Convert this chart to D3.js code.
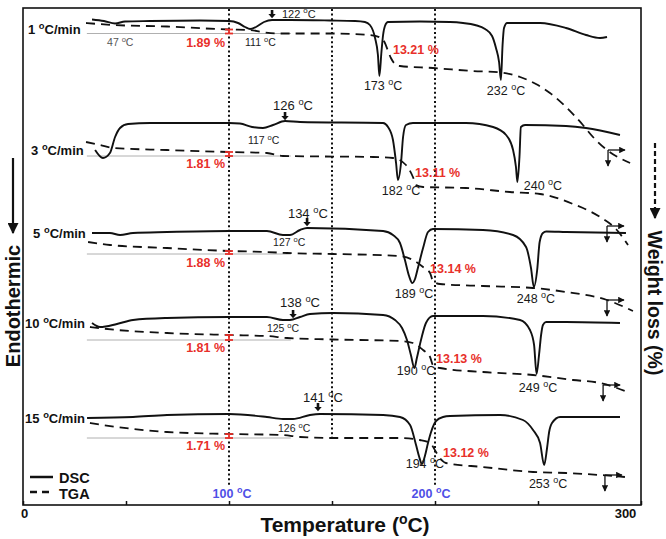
<!DOCTYPE html>
<html><head><meta charset="utf-8">
<script src="https://cdn.jsdelivr.net/npm/d3@7"></script>
<style>body{margin:0;background:#fff}svg{display:block}text{font-family:"Liberation Sans",Arial,Helvetica,sans-serif}</style>
</head><body><svg id="c" width="666" height="539"></svg>
<script>
// ---------- DATA (temperature in °C, signal in arbitrary units) ----------
const rates = ["1", "3", "5", "10", "15"];
const peak1 = ["173", "182", "189", "190", "194"];
const peak2 = ["232", "240", "248", "249", "253"];
const onsetUp = ["122", "126", "134", "138", "141"];
const onsetDip = ["111", "117", "127", "125", "126"];
const loss1 = ["1.89 %", "1.81 %", "1.88 %", "1.81 %", "1.71 %"];
const loss2 = ["13.21 %", "13.11 %", "13.14 %", "13.13 %", "13.12 %"];
const refTemps = ["100", "200"];
const refLines = [100, 150, 200];
const xTicks = [0, 50, 100, 150, 200, 250, 300];

const dsc1 = [[33.5,97.1],[39.3,96.8],[44.7,96.3],[49.5,96.7],[61.7,96.8],[85.9,96.9],[100,96.8],[104.4,96.4],[107.8,95.6],[110.2,95.2],[113.1,95.6],[117,96.6],[120.9,97],[129.6,97],[149,96.9],[161.2,96.8],[166,96.6],[168.4,96],[170.9,93.4],[172.3,90],[173,85.8],[174,90.6],[174.8,94],[175.7,95.8],[177.2,96.6],[192.7,96.7],[207.3,96.6],[213.6,96.4],[219.4,96],[224.3,95.2],[227.7,93.8],[229.6,91.4],[231.1,88.6],[232,85],[232.8,92],[233.5,95.4],[235,96.4],[251,96.4],[263.6,95.4],[273.3,94],[280.1,93.4],[283.5,93.6]];
const tga1 = [[30.6,96.4],[43.7,96],[69.9,95.7],[100,95.1],[110.2,95],[116,94.6],[123.3,94.3],[150.5,94.3],[168.4,94],[173.3,93.5],[175.7,92.4],[177.2,90.8],[178.6,89.4],[180.6,88.2],[183,87.8],[199,87.4],[218.4,86.8],[232,86.5],[241.3,85.6],[249,84.2],[255.8,82.4],[263.6,79.6],[271.8,76],[276.7,73.6],[283.5,71],[294.7,68.4]];
const dsc3 = [[35,71],[38.8,69.4],[42.2,70.4],[44.7,73.6],[47.1,75.4],[51,76.2],[61.7,76.4],[100,76.4],[105.3,76.3],[111.2,75.6],[116.5,75.4],[121.4,76],[127.2,76.8],[134.5,76.6],[174.8,76.4],[177.2,75.6],[179.6,73],[181.1,68.4],[182,65],[183.5,68.4],[184.5,73.6],[185.9,76],[189.3,76.4],[215,76.4],[228.2,75.6],[234.5,74],[237.9,71],[239.3,67.6],[240,64.6],[241,69.6],[241.7,75.6],[243.7,76],[263.6,75.8],[273.3,75.4],[289.8,74]];
const tga3 = [[30.6,72.6],[37.4,72],[43.7,71.4],[69.9,71],[100,70.6],[118.4,70.4],[126.2,69.8],[169.9,69.6],[179.6,69.4],[185.9,68],[189.3,65.6],[190.8,64],[194.2,63.6],[215,63.4],[236.4,62.6],[251,62.2],[267,60.2],[280.1,57.6],[288.3,55],[293.7,52]];
const dsc5 = [[33.5,54.4],[42.2,54.4],[47.1,54],[53.4,54.4],[69.9,54.6],[100,54.8],[118.4,54.8],[126.2,54],[129.6,54],[134.5,55],[137.9,55.4],[174.8,54.8],[179.6,54],[183,52.4],[185.4,49],[187.4,45.8],[189,44.4],[190.3,45.2],[191.7,47.4],[194.2,51.4],[196.6,54.6],[199,55.2],[223.3,55],[237.9,54],[244.2,51.6],[246.6,47.4],[248,43.6],[249.6,47],[250.8,52.6],[252.4,54.4],[254,54.7],[263.6,54.6],[292.7,54.4]];
const tga5 = [[31.6,52.6],[42.2,52],[69.9,51.4],[100,50.8],[118.4,50.6],[128.2,50.4],[150.5,50.2],[183,49.8],[189.3,49],[194.2,47.6],[197.6,46.4],[199,44.8],[202.4,44.2],[223.3,43.8],[247.6,43.4],[263.6,42.6],[283.5,41],[296.1,38.8]];
const dsc10 = [[33.5,36.4],[37.4,35.6],[45.6,36.2],[53.4,37],[69.9,37.4],[100,37.6],[118.4,37.6],[126.2,37],[129.6,37],[134.5,37.6],[139.3,38.2],[150.5,38.4],[174.8,38],[180.6,37],[184,35.4],[186.4,33],[188.3,30],[190,27.4],[191.2,29.4],[193.2,33],[195.6,36.4],[199,37.8],[223.3,37.8],[241.3,37],[246.1,35],[248.1,32],[249.3,26.2],[250.5,30],[251.5,34],[252.4,36],[253.9,36.6],[263.6,36.6],[289.8,36.4]];
const tga10 = [[32.5,35.6],[45.6,35],[69.9,34.4],[100,34],[118.4,33.8],[128.2,33.4],[150.5,33.1],[183,32.8],[189.3,32.4],[194.2,31],[197.6,29.6],[199,28],[202.4,27.4],[223.3,26.6],[247.6,26],[267,25],[280.1,24.4],[294.7,22.4]];
const dsc15 = [[31.1,17.4],[53.4,17.6],[69.9,18],[100,18.2],[118.4,17.6],[126.2,17.2],[131.1,17.2],[139.3,18],[144.2,18.2],[174.8,18],[183,17.6],[187.9,16],[190.8,12],[192.2,9.8],[193.7,8.2],[195.1,9.8],[196.6,12.4],[198.1,14.6],[200.5,16.8],[203.9,17.6],[207.3,17.8],[231.6,18],[242.7,17],[247.6,15],[251,12.4],[253,8],[254.4,11.4],[255.4,14.6],[256.8,16.4],[260.7,17.6],[289.8,17.6]];
const tga15 = [[32.5,16.4],[45.6,15.6],[69.9,14.6],[100,14.2],[126.2,14],[134.5,13.6],[150.5,13.4],[183,13.4],[192.7,13],[197.6,12.4],[200.5,10.6],[202.4,9.4],[205.3,8.4],[223.3,7.6],[247.6,6.6],[263.6,6.4],[280.1,6],[292.2,5.6]];
const dscAll = [dsc1, dsc3, dsc5, dsc10, dsc15];
const tgaAll = [tga1, tga3, tga5, tga10, tga15];
// residual-mass reference level at 100 °C (a.u.) and TGA value there
const tgaAt100 = [95.1, 70.6, 50.8, 34.0, 14.2];
const refLevel = [94.3, 69.8, 50.2, 33.0, 13.4];

// ---------- LAYOUT (annotation placement, in data units) ----------
const L = {
  rate:  [[2.4,94.2],[3.9,70],[4.9,53.4],[1,35.4],[1,16.4]],
  p1:    [[174.8,83],[183.5,62],[189.8,41.4],[190.8,26],[195.1,7.4]],
  p2:    [[234.5,82],[252.4,63],[249,40.4],[250,22.6],[254.9,3.4]],
  up:    [[125.7,97.4],[121.4,79],[128.6,57.4],[124.8,39.6],[135.9,20.6]],
  upArr: [[120.9,97.4],[127.2,77],[137.9,55.8],[131.1,37.4],[143.2,18.8]],
  dip:   [[107.8,91.8],[109.2,72.2],[121.4,51.8],[118.4,34.6],[123.8,14.6]],
  l1:    [[98.1,91.6],[98.1,67.4],[98.1,47.6],[98.1,30.6],[98.1,11]],
  l2:    [[179.6,90.2],[190.3,65.6],[197.6,46.4],[200.5,28.4],[203.9,9.6]],
  corner:[[284,71],[283.5,55.8],[283.5,41],[281.6,24],[282.5,6]]
};

const svg = d3.select("#c");
const x = d3.scaleLinear().domain([0, 300]).range([23, 641]);
const y = d3.scaleLinear().domain([0, 100]).range([505, 5]);
const RED = "#e8302a", BLUE = "#4f4fe6", INK = "#111";

const defs = svg.append("defs");
defs.append("marker").attr("id","ah").attr("viewBox","0 0 10 10").attr("refX",9).attr("refY",5)
  .attr("markerWidth",5).attr("markerHeight",5).attr("orient","auto")
  .append("path").attr("d","M0,0L10,5L0,10z").attr("fill",INK);

function deg(sel, px, py, num, o) {
  const s = o.size, t = sel.append("text").attr("x",px).attr("y",py).attr("font-size",s)
    .attr("font-weight",o.weight||"normal").attr("fill",o.fill||INK).attr("text-anchor",o.anchor||"start");
  t.append("tspan").text(num + " ");
  t.append("tspan").attr("dy",-s*0.42).attr("font-size",s*0.72).text("o");
  t.append("tspan").attr("dy",s*0.42).text(o.suffix||"C");
  return t;
}

// frame
svg.append("rect").attr("x",x(0)).attr("y",8).attr("width",x(300)-x(0)).attr("height",505-8)
  .attr("fill","none").attr("stroke",INK).attr("stroke-width",1.6);

// axis ticks
const ax = svg.append("g").attr("transform",`translate(0,505)`)
  .call(d3.axisBottom(x).tickValues(xTicks).tickSize(-4).tickFormat(d => (d===0||d===300)? String(d):""));
ax.select(".domain").remove();
ax.selectAll("line").attr("stroke",INK).attr("stroke-width",1.5);
ax.selectAll("text").attr("y",4).attr("font-size",13).attr("font-weight","bold").attr("fill",INK)
  .attr("font-family",'"Liberation Sans",Arial,sans-serif')
  .attr("dx", d => d===300 ? -16 : 1);

// dotted reference lines
refLines.forEach(t => {
  svg.append("line").attr("x1",x(t)).attr("x2",x(t)).attr("y1",9).attr("y2", t===150 ? y(13) : y(3.6))
    .attr("stroke",INK).attr("stroke-width",2).attr("stroke-dasharray","2,2.6");
});
refTemps.forEach((t,i) => deg(svg, x(+t) + (i===0?3:-4), 498, t, {size:12.5, weight:"bold", fill:BLUE, anchor:"middle"}));

// gray reference levels
refLevel.forEach(v => svg.append("line").attr("x1",x(31)).attr("x2",x(130)).attr("y1",y(v)).attr("y2",y(v))
  .attr("stroke","#b0b0b0").attr("stroke-width",1));

const line = d3.line().x(d=>x(d[0])).y(d=>y(d[1])).curve(d3.curveMonotoneX);
tgaAll.forEach(d => svg.append("path").attr("d",line(d)).attr("fill","none").attr("stroke",INK)
  .attr("stroke-width",1.8).attr("stroke-dasharray","9,6"));
dscAll.forEach(d => svg.append("path").attr("d",line(d)).attr("fill","none").attr("stroke",INK)
  .attr("stroke-width",1.9));

// red I-bars at 100 °C
tgaAt100.forEach((v,i) => {
  const g = svg.append("g").attr("stroke",RED).attr("stroke-width",1.8);
  const X = x(100), y1 = y(v), y2 = y(refLevel[i]);
  g.append("line").attr("x1",X).attr("x2",X).attr("y1",y1).attr("y2",y2);
  g.append("line").attr("x1",X-4).attr("x2",X+4).attr("y1",y1).attr("y2",y1);
  g.append("line").attr("x1",X-4).attr("x2",X+4).attr("y1",y2).attr("y2",y2);
});

// labels
rates.forEach((r,i) => deg(svg, x(L.rate[i][0]), y(L.rate[i][1]), r, {size:13, weight:"bold", suffix:"C/min"}));
peak1.forEach((p,i) => deg(svg, x(L.p1[i][0]), y(L.p1[i][1]), p, {size:12.5, anchor:"middle", fill:"#1a1a1a"}));
peak2.forEach((p,i) => deg(svg, x(L.p2[i][0]), y(L.p2[i][1]), p, {size:12.5, anchor:"middle", fill:"#1a1a1a"}));
onsetUp.forEach((p,i) => deg(svg, x(L.up[i][0]), y(L.up[i][1]), p, {size: i===0 ? 11 : 13, fill:"#1a1a1a"}));
onsetDip.forEach((p,i) => deg(svg, x(L.dip[i][0]), y(L.dip[i][1]), p, {size:10.5, fill:"#1a1a1a"}));
deg(svg, x(40.8), y(91.8), "47", {size:10.5, fill:"#555"});
loss1.forEach((p,i) => svg.append("text").attr("x",x(L.l1[i][0])).attr("y",y(L.l1[i][1])).attr("text-anchor","end")
  .attr("font-size",12.5).attr("font-weight","bold").attr("fill",RED).text(p));
loss2.forEach((p,i) => svg.append("text").attr("x",x(L.l2[i][0])).attr("y",y(L.l2[i][1]))
  .attr("font-size",12.5).attr("font-weight","bold").attr("fill",RED).text(p));

// small down arrows at onset points
L.upArr.forEach(a => {
  const X = x(a[0]), Y = y(a[1]);
  svg.append("path").attr("d",`M${X-1.3},${Y-8}h2.6v4h2.4l-3.7,4.2l-3.7,-4.2h2.4z`).attr("fill",INK);
});

// right-side L arrows
L.corner.forEach(c => {
  const X = x(c[0]), Y = y(c[1]);
  svg.append("line").attr("x1",X).attr("x2",X).attr("y1",Y).attr("y2",Y+16).attr("stroke",INK).attr("stroke-width",1.3).attr("marker-end","url(#ah)");
  svg.append("line").attr("x1",X).attr("x2",X+17).attr("y1",Y).attr("y2",Y).attr("stroke",INK).attr("stroke-width",1.3).attr("marker-end","url(#ah)");
});

// legend
svg.append("line").attr("x1",30).attr("x2",53).attr("y1",477).attr("y2",477).attr("stroke",INK).attr("stroke-width",2.5);
svg.append("line").attr("x1",30).attr("x2",54).attr("y1",492).attr("y2",492).attr("stroke",INK).attr("stroke-width",2.5).attr("stroke-dasharray","7,5");
svg.append("text").attr("x",59).attr("y",483).attr("font-size",14.5).attr("font-weight","bold").attr("fill",INK).text("DSC");
svg.append("text").attr("x",59).attr("y",499).attr("font-size",14.5).attr("font-weight","bold").attr("fill",INK).text("TGA");

// axis titles
const tt = svg.append("text").attr("x",345).attr("y",532).attr("text-anchor","middle").attr("font-size",21).attr("font-weight","bold").attr("fill",INK);
tt.append("tspan").text("Temperature (");
tt.append("tspan").attr("dy",-8).attr("font-size",14).text("o");
tt.append("tspan").attr("dy",8).text("C)");

svg.append("text").attr("transform","translate(20,306) rotate(-90)").attr("text-anchor","middle")
  .attr("font-size",20).attr("font-weight","bold").attr("fill",INK).text("Endothermic");
svg.append("line").attr("x1",13).attr("x2",13).attr("y1",158).attr("y2",233).attr("stroke",INK).attr("stroke-width",2.2).attr("marker-end","url(#ah)");

svg.append("text").attr("transform","translate(648,303) rotate(90)").attr("text-anchor","middle")
  .attr("font-size",19.5).attr("font-weight","bold").attr("fill",INK).text("Weight loss (%)");
svg.append("line").attr("x1",655).attr("x2",655).attr("y1",143).attr("y2",218).attr("stroke",INK).attr("stroke-width",2.2)
  .attr("stroke-dasharray","5,3").attr("marker-end","url(#ah)");
</script></body></html>
